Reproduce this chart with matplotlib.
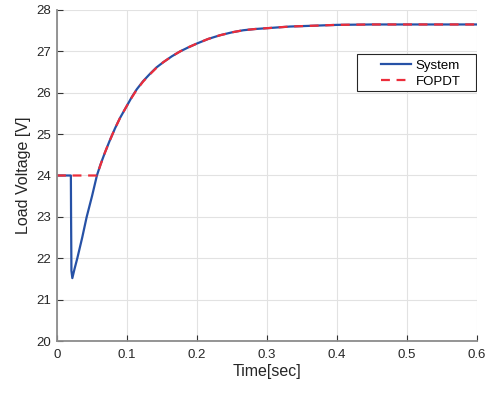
import numpy as np
import matplotlib
matplotlib.use("Agg")
import matplotlib.pyplot as plt
from matplotlib.patches import Rectangle

plt.rcParams['font.family'] = ['Liberation Sans', 'DejaVu Sans']

# system response
sys_t = [0.0, 0.0198, 0.0201, 0.0206, 0.0219, 0.025, 0.029, 0.036, 0.0424, 0.050, 0.057,
         0.062, 0.0686, 0.075, 0.0829, 0.090, 0.100, 0.107, 0.1138, 0.123, 0.133, 0.142,
         0.152, 0.164, 0.176, 0.188, 0.200, 0.216, 0.233, 0.250, 0.266, 0.283, 0.300,
         0.333, 0.367, 0.400, 0.450, 0.500, 0.600]
sys_v = [24.0, 24.0, 23.0, 21.7, 21.52, 21.74, 22.0, 22.5, 23.0, 23.5, 24.0,
         24.26, 24.56, 24.83, 25.14, 25.39, 25.69, 25.90, 26.08, 26.28, 26.46, 26.61,
         26.74, 26.88, 27.00, 27.10, 27.19, 27.30, 27.39, 27.46, 27.51, 27.54, 27.56,
         27.60, 27.62, 27.64, 27.65, 27.65, 27.65]

# FOPDT model
fop_t = [0.0, 0.057, 0.062, 0.0686, 0.075, 0.0829, 0.090, 0.100, 0.107, 0.1138, 0.123,
         0.133, 0.142, 0.152, 0.164, 0.176, 0.188, 0.200, 0.216, 0.233, 0.250, 0.266,
         0.283, 0.300, 0.333, 0.367, 0.400, 0.450, 0.500, 0.600]
fop_v = [24.0, 24.0, 24.25, 24.56, 24.83, 25.14, 25.39, 25.69, 25.89, 26.07, 26.27,
         26.45, 26.60, 26.74, 26.88, 27.00, 27.10, 27.19, 27.30, 27.39, 27.46, 27.51,
         27.54, 27.56, 27.60, 27.62, 27.64, 27.65, 27.65, 27.65]

blue = '#2651a6'
red = '#ec2d3a'

fig = plt.figure(figsize=(4.94, 3.93), dpi=100)
ax = fig.add_axes([0.1154, 0.1323, 0.8502, 0.8423])

ax.plot(sys_t, sys_v, color=blue, lw=1.6, label='System')
ax.plot(fop_t, fop_v, color=red, lw=1.6, ls=(0, (4, 3)), label='FOPDT')

ax.set_xlim(0, 0.6)
ax.set_ylim(20, 28)
ax.set_xticks(np.arange(0, 0.61, 0.1))
ax.set_xticklabels(['0', '0.1', '0.2', '0.3', '0.4', '0.5', '0.6'])
ax.set_yticks(range(20, 29))
ax.grid(True, color='#e2e2e2', lw=0.8)
ax.set_axisbelow(True)

for s in ['top', 'right']:
    ax.spines[s].set_visible(False)
for s in ['left', 'bottom']:
    ax.spines[s].set_color('#8c8c8c')
    ax.spines[s].set_linewidth(1.3)
ax.tick_params(direction='in', length=4, color='#333333', labelsize=9.5,
               labelcolor='#262626')
ax.tick_params(axis='x', pad=6)
ax.tick_params(axis='y', pad=4)

ax.set_xlabel('Time[sec]', fontsize=11.5, color='#262626', labelpad=2)
ax.set_ylabel('Load Voltage [V]', fontsize=11.5, color='#262626', labelpad=4)

# legend in a MATLAB-like box
leg = ax.legend(loc='center left', bbox_to_anchor=(0.771, 0.8075), fontsize=9.5,
                frameon=False, handlelength=2.3, handletextpad=0.35,
                borderpad=0, borderaxespad=0, labelspacing=0.25)
ax.add_patch(Rectangle((0.714, 0.755), 0.284, 0.112, transform=ax.transAxes,
                       facecolor='white', edgecolor='#262626', lw=0.8, zorder=4))
leg.set_zorder(5)

fig.savefig('out.png', dpi=100)
